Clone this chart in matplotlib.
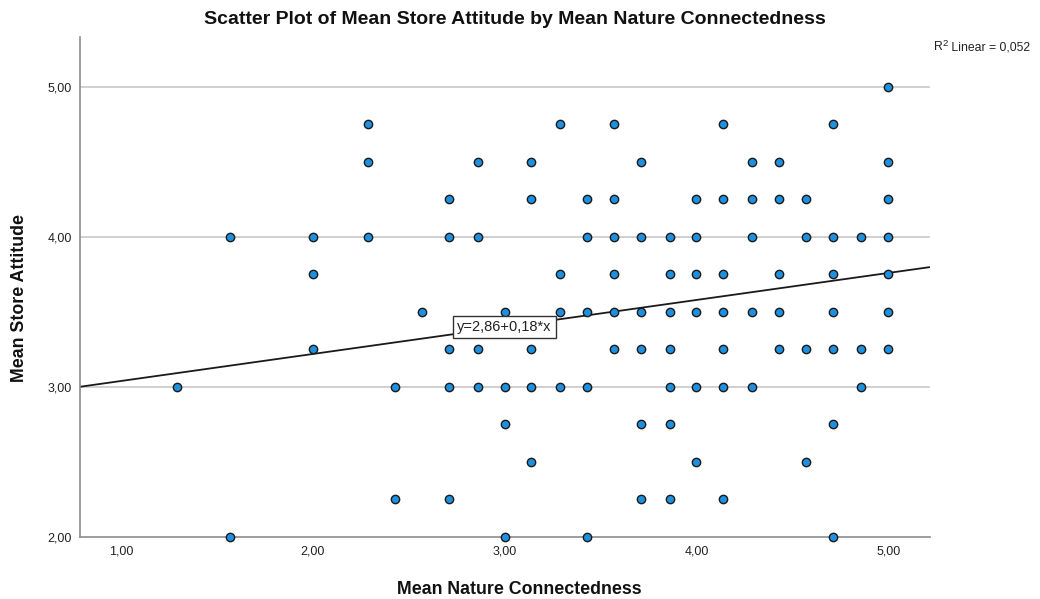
import matplotlib
matplotlib.use("Agg")
import matplotlib.pyplot as plt
import numpy as np

plt.rcParams["font.family"] = ["Liberation Sans", "DejaVu Sans"]

# Mean Nature Connectedness (x) and Mean Store Attitude (y) per respondent
nature = [
    5.00,
    2.29, 3.29, 3.57, 4.14, 4.71,
    2.29, 2.86, 3.14, 3.71, 4.29, 4.43, 5.00,
    2.71, 3.14, 3.43, 3.57, 4.00, 4.14, 4.29, 4.43, 4.57, 5.00,
    1.57, 2.00, 2.29, 2.71, 2.86, 3.43, 3.57, 3.71, 3.86, 4.00, 4.29, 4.57, 4.71, 4.86, 5.00,
    2.00, 3.29, 3.57, 3.86, 4.00, 4.14, 4.43, 4.71, 5.00,
    2.57, 3.00, 3.29, 3.43, 3.57, 3.71, 3.86, 4.00, 4.14, 4.29, 4.43, 4.71, 5.00,
    2.00, 2.71, 2.86, 3.14, 3.57, 3.71, 3.86, 4.14, 4.43, 4.57, 4.71, 4.86, 5.00,
    1.29, 2.43, 2.71, 2.86, 3.00, 3.14, 3.29, 3.43, 3.86, 4.00, 4.14, 4.29, 4.86,
    3.00, 3.71, 3.86, 4.71,
    3.14, 4.00, 4.57,
    2.43, 2.71, 3.71, 3.86, 4.14,
    1.57, 3.00, 3.43, 4.71,
]
store = [
    5.00,
    4.75, 4.75, 4.75, 4.75, 4.75,
    4.50, 4.50, 4.50, 4.50, 4.50, 4.50, 4.50,
    4.25, 4.25, 4.25, 4.25, 4.25, 4.25, 4.25, 4.25, 4.25, 4.25,
    4.00, 4.00, 4.00, 4.00, 4.00, 4.00, 4.00, 4.00, 4.00, 4.00, 4.00, 4.00, 4.00, 4.00, 4.00,
    3.75, 3.75, 3.75, 3.75, 3.75, 3.75, 3.75, 3.75, 3.75,
    3.50, 3.50, 3.50, 3.50, 3.50, 3.50, 3.50, 3.50, 3.50, 3.50, 3.50, 3.50, 3.50,
    3.25, 3.25, 3.25, 3.25, 3.25, 3.25, 3.25, 3.25, 3.25, 3.25, 3.25, 3.25, 3.25,
    3.00, 3.00, 3.00, 3.00, 3.00, 3.00, 3.00, 3.00, 3.00, 3.00, 3.00, 3.00, 3.00,
    2.75, 2.75, 2.75, 2.75,
    2.50, 2.50, 2.50,
    2.25, 2.25, 2.25, 2.25, 2.25,
    2.00, 2.00, 2.00, 2.00,
]

# Linear fit reported in the chart
intercept = 2.86
slope = 0.18
r_squared = 0.052

x_ticks = [1.0, 2.0, 3.0, 4.0, 5.0]
y_ticks = [2.0, 3.0, 4.0, 5.0]


def comma(v, decimals=2):
    return f"{v:.{decimals}f}".replace(".", ",")


fig = plt.figure(figsize=(10.40, 5.99), dpi=100)
ax = fig.add_axes([80 / 1040, 62 / 599, 850 / 1040, 500 / 599])

x_min, x_max = 0.786, 5.218
ax.set_xlim(x_min, x_max)
ax.set_ylim(2.0, 5.333)

for yv in y_ticks[1:]:
    ax.axhline(yv, color="#c8c8c8", lw=1.2, zorder=1)

# regression line across the full plot width
xs = np.array([x_min, x_max])
ax.plot(xs, intercept + slope * xs, color="#1a1a1a", lw=1.3, zorder=2,
        solid_capstyle="butt")

ax.scatter(nature, store, s=36, facecolor="#1f8fe0", edgecolor="#1a1a1a",
           linewidths=1.0, zorder=3, clip_on=False)

eq_x = 3.0
ax.text(eq_x, intercept + slope * eq_x,
        f"y={comma(intercept)}+{comma(slope)}*x",
        ha="center", va="center", fontsize=10.5, color="#222222", zorder=4,
        bbox=dict(boxstyle="square,pad=0.3", facecolor="white",
                  edgecolor="#333333", linewidth=1.0))

ax.set_xticks(x_ticks)
ax.set_xticklabels([comma(v) for v in x_ticks])
ax.set_yticks(y_ticks)
ax.set_yticklabels([comma(v) for v in y_ticks])
ax.tick_params(length=0, labelsize=9, colors="#222222", pad=6)

for side in ("top", "right"):
    ax.spines[side].set_visible(False)
for side in ("left", "bottom"):
    ax.spines[side].set_color("#8c8c8c")
    ax.spines[side].set_linewidth(1.2)

ax.set_xlabel("Mean Nature Connectedness", fontsize=12.8, fontweight="bold",
              color="#111111", va="center")
ax.xaxis.set_label_coords((519 - 80) / 850, -(589 - 537) / 500)
ax.set_ylabel("Mean Store Attitude", fontsize=12.8, fontweight="bold",
              color="#111111", va="center")
ax.yaxis.set_label_coords(-(80 - 19) / 850, (537 - 298) / 500)

fig.text(515 / 1040, 1 - 20 / 599,
         "Scatter Plot of Mean Store Attitude by Mean Nature Connectedness",
         ha="center", va="center", fontsize=14, fontweight="bold",
         color="#111111")

# R² annotation, built from three pieces so the superscript stays legible
renderer = fig.canvas.get_renderer()
r2_y = 1 - 50 / 599
tail = fig.text(1030 / 1040, r2_y, " Linear = " + comma(r_squared, 3),
                ha="right", va="baseline", fontsize=8.8, color="#222222")
tail_left = tail.get_window_extent(renderer).x0
sup = fig.text(tail_left / 1040, r2_y + 4.5 / 599, "2",
               ha="right", va="baseline", fontsize=6.8, color="#222222")
sup_left = sup.get_window_extent(renderer).x0
fig.text(sup_left / 1040, r2_y, "R",
         ha="right", va="baseline", fontsize=8.8, color="#222222")

fig.savefig("out.png", dpi=100)
